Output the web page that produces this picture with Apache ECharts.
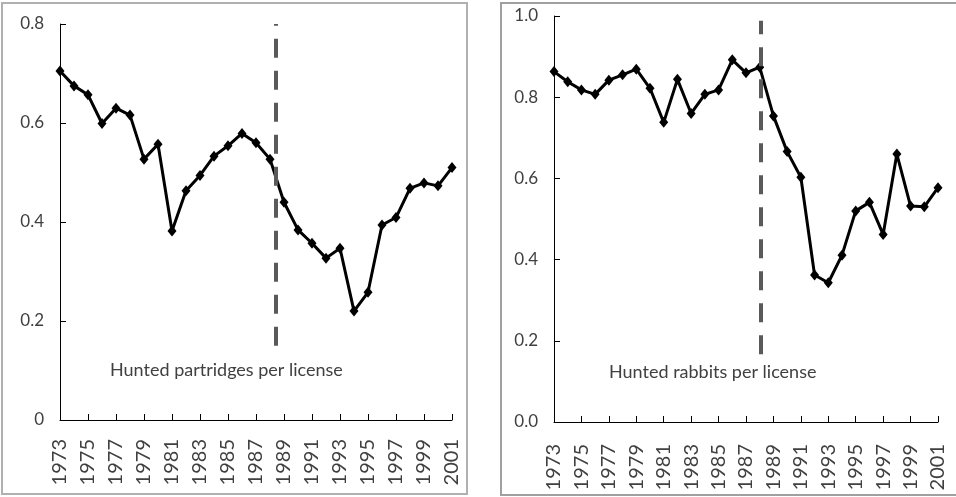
<!DOCTYPE html>
<html>
<head>
<meta charset="utf-8">
<script src="https://cdn.jsdelivr.net/npm/echarts@6/dist/echarts.min.js"></script>
<style>
  html, body { margin: 0; padding: 0; background: #fff; }
  #chart { width: 956px; height: 497px; }
</style>
</head>
<body>
<div id="chart"></div>
<script>
// 数据
var years = [];
for (var y = 1973; y <= 2001; y++) years.push(y);

var partridges = [0.705, 0.675, 0.657, 0.599, 0.630, 0.616, 0.527, 0.557, 0.382, 0.463,
                  0.494, 0.533, 0.554, 0.579, 0.560, 0.527, 0.440, 0.384, 0.357, 0.327,
                  0.347, 0.220, 0.258, 0.394, 0.409, 0.468, 0.479, 0.473, 0.510];
var rabbits = [0.863, 0.838, 0.818, 0.807, 0.842, 0.855, 0.869, 0.822, 0.738, 0.844,
               0.760, 0.807, 0.818, 0.892, 0.860, 0.874, 0.754, 0.666, 0.603, 0.362,
               0.343, 0.411, 0.520, 0.541, 0.462, 0.660, 0.532, 0.530, 0.577];

var leftTicks = [0, 0.2, 0.4, 0.6, 0.8];
var rightTicks = [0.0, 0.2, 0.4, 0.6, 0.8, 1.0];
var leftBreak = 1988.4, rightBreak = 1988.05;

function pairs(vals) {
    return years.map(function (yr, i) { return [yr, vals[i]]; });
}

var font = 'Lato, "Open Sans", sans-serif';
var txt = '#404040';

function xAxis(grid, margin) {
    return {
        type: 'value', gridIndex: grid, min: 1973, max: 2001, interval: 2,
        axisLine: { lineStyle: { color: '#000', width: 1 } },
        axisTick: { inside: true, length: 6, lineStyle: { color: '#000' } },
        axisLabel: { rotate: 90, margin: margin, color: txt, fontFamily: font, fontSize: 20,
                     formatter: function (v) { return String(v); } },
        splitLine: { show: false }
    };
}
function yAxis(grid, ticks, fmt) {
    return {
        type: 'value', gridIndex: grid, min: ticks[0], max: ticks[ticks.length - 1], interval: 0.2,
        axisLine: { show: true, lineStyle: { color: '#000', width: 1 } },
        axisTick: { show: true, inside: true, length: 6, lineStyle: { color: '#000' } },
        axisLabel: { margin: 16, color: txt, fontFamily: font, fontSize: 17, formatter: fmt },
        splitLine: { show: false }
    };
}
function lineSeries(idx, vals, brk, y0, y1) {
    return {
        type: 'line', xAxisIndex: idx, yAxisIndex: idx,
        data: pairs(vals),
        symbol: 'diamond', symbolSize: [9, 11],
        itemStyle: { color: '#000' },
        lineStyle: { color: '#000', width: 3 },
        animation: false,
        markLine: {
            silent: true, symbol: ['none', 'none'], label: { show: false },
            lineStyle: { color: '#5a5a5a', width: 4, type: [19, 13] },
            data: [[{ coord: [brk, y0] }, { coord: [brk, y1] }]]
        }
    };
}

var myChart = echarts.init(document.getElementById('chart'));
var option = {
    backgroundColor: '#fff',
    animation: false,
    grid: [
        { left: 60, right: 504, top: 24, bottom: 77 },
        { left: 554, right: 18, top: 16, bottom: 75 }
    ],
    xAxis: [xAxis(0, 19), xAxis(1, 22)],
    yAxis: [
        yAxis(0, leftTicks, function (v) { return String(+v.toFixed(1)); }),
        yAxis(1, rightTicks, function (v) { return v.toFixed(1); })
    ],
    graphic: [
        { type: 'rect', shape: { x: 2, y: 3, width: 465, height: 491 },
          style: { fill: 'none', stroke: '#b0b0b0', lineWidth: 2 }, silent: true },
        { type: 'rect', shape: { x: 501, y: 3, width: 460, height: 492 },
          style: { fill: 'none', stroke: '#a0a0a0', lineWidth: 2 }, silent: true },
        { type: 'text', left: 110, top: 361,
          style: { text: 'Hunted partridges per license', fill: txt, font: '18px ' + font } },
        { type: 'text', left: 609, top: 363,
          style: { text: 'Hunted rabbits per license', fill: txt, font: '18px ' + font } }
    ],
    series: [
        lineSeries(0, partridges, leftBreak, 0.15, 0.8),
        lineSeries(1, rabbits, rightBreak, 0.167, 0.988)
    ]
};
myChart.setOption(option);
</script>
</body>
</html>
